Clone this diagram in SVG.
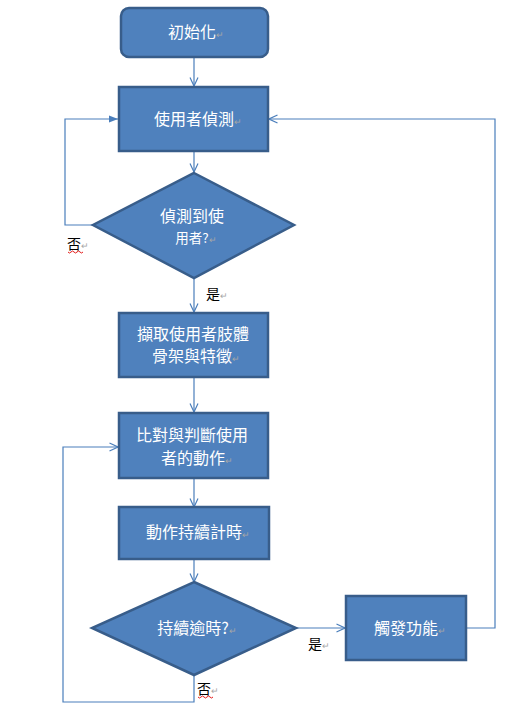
<svg xmlns="http://www.w3.org/2000/svg" width="511" height="719" viewBox="0 0 511 719">
  <style>
    .box { fill: #4F81BD; stroke: #385D8A; stroke-width: 2.5; }
    .lbl { fill: #FFFFFF; font-family: "Noto Sans CJK TC", "Liberation Sans", sans-serif; font-size: 16px; text-anchor: middle; }
    .ret { fill: #A6A6A6; font-size: 9px; }
    .tag { fill: #000000; font-family: "Noto Sans CJK TC", "Liberation Sans", sans-serif; font-size: 14px; }
    .conn { fill: none; stroke: #4A7EBB; stroke-width: 1.2; }
    .squig { fill: none; stroke: #E00000; stroke-width: 0.9; }
  </style>
  <defs>
    <marker id="open" viewBox="0 0 10 10" refX="9.5" refY="5" markerWidth="10" markerHeight="10" markerUnits="userSpaceOnUse" orient="auto">
      <path d="M1,1 L9.5,5 L1,9" fill="none" stroke="#4A7EBB" stroke-width="1.2"/>
    </marker>
    <marker id="solid" viewBox="0 0 10 10" refX="10" refY="5" markerWidth="9" markerHeight="9" markerUnits="userSpaceOnUse" orient="auto">
      <path d="M0,1 L10,5 L0,9 Z" fill="#4A7EBB"/>
    </marker>
  </defs>

  <rect width="511" height="719" fill="#FFFFFF"/>

  <!-- connectors -->
  <g id="connectors">
    <line class="conn" x1="194" y1="57" x2="194" y2="86" marker-end="url(#open)"/>
    <line class="conn" x1="194" y1="151" x2="194" y2="172" marker-end="url(#open)"/>
    <path class="conn" d="M93,225 H65 V119 H118" marker-end="url(#solid)"/>
    <line class="conn" x1="194" y1="278" x2="194" y2="312" marker-end="url(#open)"/>
    <line class="conn" x1="194" y1="377" x2="194" y2="412" marker-end="url(#open)"/>
    <line class="conn" x1="194" y1="478" x2="194" y2="507" marker-end="url(#open)"/>
    <line class="conn" x1="194" y1="559" x2="194" y2="582" marker-end="url(#open)"/>
    <line class="conn" x1="296" y1="628" x2="345" y2="628" marker-end="url(#open)"/>
    <path class="conn" d="M194,675 V702 H63 V447 H118" marker-end="url(#open)"/>
    <path class="conn" d="M466,628 H495 V119 H269" marker-end="url(#open)"/>
  </g>

  <!-- nodes -->
  <g id="init">
    <rect class="box" x="121" y="8" width="147" height="49" rx="8"/>
    <text class="lbl" x="196" y="38">初始化<tspan class="ret">↵</tspan></text>
  </g>

  <g id="detect">
    <rect class="box" x="119" y="87" width="149" height="64"/>
    <text class="lbl" x="198" y="125">使用者偵測<tspan class="ret">↵</tspan></text>
  </g>

  <g id="user-found">
    <polygon class="box" points="194,173 294,225 194,278 93,225"/>
    <text class="lbl" x="192" y="222">偵測到使</text>
    <text class="lbl" x="196" y="243" style="font-size:13.5px">用者?<tspan class="ret">↵</tspan></text>
  </g>

  <g id="extract">
    <rect class="box" x="119" y="313" width="149" height="64"/>
    <text class="lbl" x="193" y="340">擷取使用者肢體</text>
    <text class="lbl" x="196" y="362">骨架與特徵<tspan class="ret">↵</tspan></text>
  </g>

  <g id="compare">
    <rect class="box" x="119" y="413" width="149" height="65"/>
    <text class="lbl" x="192" y="441">比對與判斷使用</text>
    <text class="lbl" x="197" y="464">者的動作<tspan class="ret">↵</tspan></text>
  </g>

  <g id="timer">
    <rect class="box" x="119" y="507" width="150" height="52"/>
    <text class="lbl" x="198" y="538">動作持續計時<tspan class="ret">↵</tspan></text>
  </g>

  <g id="timeout">
    <polygon class="box" points="194,582 296,628 194,675 92,628"/>
    <text class="lbl" x="197" y="634">持續逾時?<tspan class="ret">↵</tspan></text>
  </g>

  <g id="trigger">
    <rect class="box" x="346" y="596" width="120" height="64"/>
    <text class="lbl" x="410" y="634">觸發功能<tspan class="ret">↵</tspan></text>
  </g>

  <!-- branch labels -->
  <g id="labels">
    <text class="tag" x="67" y="249">否<tspan class="ret">↵</tspan></text>
    <path class="squig" d="M68,252 q1.5,2 3,0 t3,0 t3,0 t3,0 t3,0"/>
    <text class="tag" x="206" y="299">是<tspan class="ret">↵</tspan></text>
    <text class="tag" x="308" y="649">是<tspan class="ret">↵</tspan></text>
    <text class="tag" x="197" y="694">否<tspan class="ret">↵</tspan></text>
    <path class="squig" d="M198,697 q1.5,2 3,0 t3,0 t3,0 t3,0 t3,0"/>
  </g>
</svg>
